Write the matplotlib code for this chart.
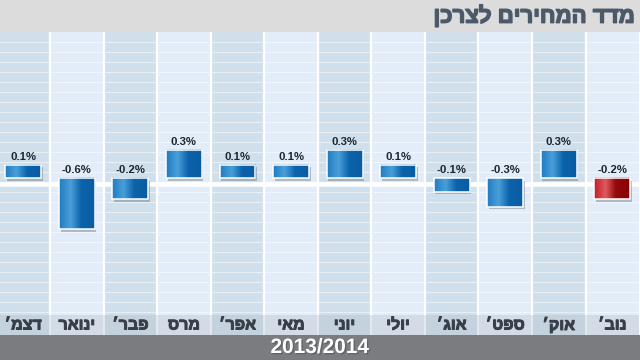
import numpy as np
import matplotlib.pyplot as plt
from matplotlib.patches import Rectangle
from matplotlib.colors import LinearSegmentedColormap
import matplotlib.patheffects as pe

plt.rcParams['font.family'] = ['Liberation Sans', 'DejaVu Sans']

# data (right-to-left layout: December on the left)
title = 'מדד המחירים לצרכן'
period = '2013/2014'
months = ['דצמ׳', 'ינואר', 'פבר׳', 'מרס', 'אפר׳', 'מאי', 'יוני', 'יולי', 'אוג׳', 'ספט׳', 'אוק׳', 'נוב׳']
changes = [0.1, -0.6, -0.2, 0.3, 0.1, 0.1, 0.3, 0.1, -0.1, -0.3, 0.3, -0.2]
highlight = 11  # last month drawn in red


def rtl(s):
    # matplotlib lays text out left to right, so flip Hebrew by hand
    return s[::-1]


def heavy(color, w):
    # the Hebrew in the original is heavier than the bold face we have
    return [pe.withStroke(linewidth=w, foreground=color)]


blue = LinearSegmentedColormap.from_list('blue', [(0, '#1f7dc2'), (0.32, '#4a9fd9'),
                                                  (0.62, '#0c63ab'), (1, '#0a5ca2')])
red = LinearSegmentedColormap.from_list('red', [(0, '#c21f27'), (0.32, '#e05a5e'),
                                                (0.6, '#950a0c'), (1, '#8a0000')])
grad = np.linspace(0, 1, 64).reshape(1, -1)

col_dark, col_light = '#cfe0ec', '#e3edf9'
band_dark, band_light = '#c4d2de', '#d3dbe6'

fig = plt.figure(figsize=(6.4, 3.6), dpi=100)
fig.patch.set_facecolor('white')

xlim = (-0.435, 11.517)
# px per percent point is 75, zero base sits at y=178.5 px
ax = fig.add_axes([0, 45 / 360, 1, 283 / 360])
ax.axis('off')

n = len(months)
for i in range(n):
    ax.axvspan(i - 0.5, i + 0.5, color=col_dark if i % 2 == 0 else col_light, lw=0, zorder=0)
for y_px in np.arange(42, 315, 10):
    ax.axhline((178.5 - y_px) / 75, color='white', alpha=0.5, lw=0.8, zorder=1)
for i in range(n - 1):
    ax.axvline(i + 0.5, color='white', lw=1.6, zorder=1.5)
ax.axhline(-0.067, color='white', lw=3.3, zorder=2)

half = 0.335
for i, v in enumerate(changes):
    h = v + np.sign(v) * 0.08
    y0, y1 = min(0, h), max(0, h)
    cmap = red if i == highlight else blue
    ax.add_patch(Rectangle((i - half + 0.03, y0 - 0.03), 2 * half, y1 - y0,
                           color='#4a5a6a', alpha=0.35, lw=0, zorder=3))
    ax.imshow(grad, extent=(i - half, i + half, y0, y1), aspect='auto', cmap=cmap, zorder=4)
    ax.add_patch(Rectangle((i - half, y0), 2 * half, y1 - y0, fill=False,
                           ec='white', lw=1.1, zorder=5))
    ty = h + 0.1 if v > 0 else 0.113
    ax.text(i, ty, f'{v:.1f}%', ha='center', va='center', fontsize=8.2,
            fontweight='bold', color='#1c2733', zorder=6)

ax.set_xlim(*xlim)
ax.set_ylim(-1.82, 1.953)

# month label band
band = fig.add_axes([0, 25 / 360, 1, 20 / 360])
band.axis('off')
for i, m in enumerate(months):
    band.axvspan(i - 0.5, i + 0.5, color=band_dark if i % 2 == 0 else band_light, lw=0)
    band.text(i, 0.5, rtl(m), ha='center', va='center', fontsize=11.5,
              fontweight='bold', color='#383f49', path_effects=heavy('#383f49', 0.7))
for i in range(n - 1):
    band.axvline(i + 0.5, color='#e6ecf2', lw=1.2)
band.set_xlim(*xlim)
band.set_ylim(0, 1)

# title and bottom bars
fig.patches.append(Rectangle((0, 328 / 360), 1, 32 / 360, transform=fig.transFigure,
                             color='#dcdcdc', lw=0, zorder=0))
fig.text(635 / 640, 1 - 17 / 360, rtl(title), ha='right', va='center', fontsize=16,
         fontweight='bold', color='#4b5968', path_effects=heavy('#4b5968', 1.0))
fig.patches.append(Rectangle((0, 0), 1, 25 / 360, transform=fig.transFigure,
                             color='#7b7c80', lw=0, zorder=0))
fig.text(0.5, 12.5 / 360, period, ha='center', va='center', fontsize=15, fontweight='bold',
         color='white', path_effects=[pe.withSimplePatchShadow(offset=(1, -1), alpha=0.5)])

fig.savefig('out.png', dpi=100)
